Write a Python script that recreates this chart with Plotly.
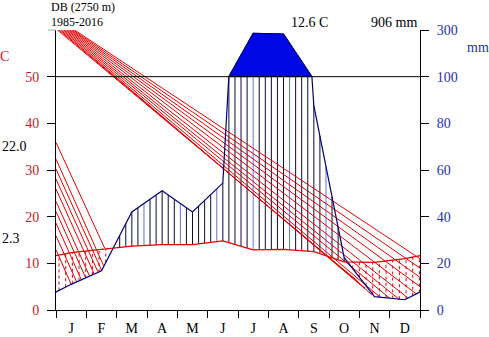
import numpy as np
import plotly.graph_objects as go

# ---------------- data ----------------
months = ["J", "F", "M", "A", "M", "J", "J", "A", "S", "O", "N", "D"]
temp_c = [12.3, 13.0, 13.7, 14.0, 14.0, 14.8, 12.9, 13.0, 12.5, 10.3, 10.2, 11.0]
precip_mm = [11.0, 16.8, 42.0, 51.1, 42.0, 54.4, 286.0, 283.0, 87.6, 22.4, 5.7, 4.4]

station = "DB (2750 m)"
period = "1985-2016"
mean_temp_label = "12.6 C"
total_precip_label = "906 mm"
abs_max_label = "22.0"
abs_min_label = "2.3"

temp_ticks = [0, 10, 20, 30, 40, 50]
precip_tick_pos = [0, 10, 20, 30, 40, 50, 60]
precip_tick_text = ["0", "20", "40", "60", "80", "100", "300"]

# stray hatch segments of the drought fill (month units, deg C)
diagA_top_x = [0.050, 0.101, 0.152, 0.203, 0.254, 0.305, 0.356, 0.407, 0.458, 0.509, 0.560, 0.612]
diagA_top_y = [60.0] * 12
diagA_end_x = [9.967, 10.19, 10.41, 10.69, 11.00, 11.31, 11.60, 11.87, 12.0, 12.0, 12.0, 12.0]
diagA_end_y = [6.06, 4.67, 3.30, 2.72, 2.53, 2.31, 2.59, 3.49, 5.01, 7.00, 8.99, 10.98]

diagB_start_x = [0.0] * 10
diagB_start_y = [35.89, 32.33, 30.19, 28.05, 25.91, 23.25, 21.11, 18.63, 15.91, 12.91]
diagB_end_x = [1.603, 1.570, 1.504, 1.379, 1.256, 1.101, 0.975, 0.833, 0.678, 0.502]
diagB_end_y = [13.28, 9.49, 8.52, 8.20, 7.77, 7.34, 6.94, 6.49, 6.06, 5.50]

# ---------------- styles ----------------
FONT = "Liberation Serif"
RED = "#e00000"
LABEL_RED = "#c8202a"
LABEL_BLUE = "#2433a8"
PLINE = "#00007a"
FILL_BLUE = "#0008e6"

# ---------------- derived curves ----------------
xe = np.arange(-0.5, 12.51, 1.0)
pe = [precip_mm[-1]] + precip_mm + [precip_mm[0]]
te = [temp_c[-1]] + temp_c + [temp_c[0]]


def scale(p):
    return p / 2.0 if p <= 100 else 50.0 + (p - 100.0) / 20.0


cx, cy = [], []
for i in range(len(xe)):
    cx.append(xe[i]); cy.append(scale(pe[i]))
    if i < len(xe) - 1:
        a, b = pe[i], pe[i + 1]
        if (a > 100) != (b > 100):
            f = (100.0 - a) / (b - a)
            cx.append(xe[i] + f); cy.append(50.0)
cx = np.array(cx); cy = np.array(cy)

# blue polygon above 100 mm
above = cy >= 50.0
px_poly = list(cx[above]); py_poly = list(cy[above])
px_poly.append(px_poly[0]); py_poly.append(py_poly[0])

# wet hatch (vertical lines)
wet_x = np.arange(0.1, 12.0, 0.2)
wet_segs_dark_x, wet_segs_dark_y = [], []
wet_segs_light_x, wet_segs_light_y = [], []
for k, x in enumerate(wet_x):
    t = np.interp(x, xe, te)
    p = np.interp(x, cx, cy)
    if p > t:
        top = min(p, 50.0)
        if k % 6 == 2:
            wet_segs_light_x += [x, x, None]; wet_segs_light_y += [t, top, None]
        else:
            wet_segs_dark_x += [x, x, None]; wet_segs_dark_y += [t, top, None]

# dry hatch (dotted vertical lines)
dry_x = np.arange(0.1, 12.0, 0.22)
dry_sx, dry_sy = [], []
for x in dry_x:
    t = np.interp(x, xe, te)
    p = np.interp(x, cx, cy)
    if p < t:
        dry_sx += [x, x, None]; dry_sy += [p, t, None]

diag_x, diag_y = [], []
for a, b, c, d in zip(diagA_top_x, diagA_top_y, diagA_end_x, diagA_end_y):
    diag_x += [a, c, None]; diag_y += [b, d, None]
for a, b, c, d in zip(diagB_start_x, diagB_start_y, diagB_end_x, diagB_end_y):
    diag_x += [a, c, None]; diag_y += [b, d, None]

fig = go.Figure()
fig.add_trace(go.Scatter(x=wet_segs_dark_x, y=wet_segs_dark_y, mode="lines",
                         line=dict(color="#0b0b30", width=1), hoverinfo="skip"))
fig.add_trace(go.Scatter(x=wet_segs_light_x, y=wet_segs_light_y, mode="lines",
                         line=dict(color="#6072e0", width=1), hoverinfo="skip"))
fig.add_trace(go.Scatter(x=dry_sx, y=dry_sy, mode="lines",
                         line=dict(color=RED, width=1, dash="dot"), hoverinfo="skip"))
fig.add_trace(go.Scatter(x=diag_x, y=diag_y, mode="lines",
                         line=dict(color="#e00000", width=1), hoverinfo="skip"))
fig.add_trace(go.Scatter(x=px_poly, y=py_poly, mode="lines", fill="toself",
                         fillcolor=FILL_BLUE, line=dict(color=FILL_BLUE, width=1),
                         hoverinfo="skip"))
fig.add_trace(go.Scatter(x=list(cx), y=list(cy), mode="lines",
                         line=dict(color=PLINE, width=1.2), hoverinfo="skip"))
fig.add_trace(go.Scatter(x=list(xe), y=te, mode="lines",
                         line=dict(color=RED, width=1.2), hoverinfo="skip"))
fig.add_trace(go.Scatter(x=[0], y=[0], yaxis="y2", mode="markers",
                         marker=dict(opacity=0), hoverinfo="skip"))

# 50 C / 100 mm reference line
fig.add_shape(type="line", xref="x", yref="y", x0=0, x1=12, y0=50, y1=50,
              line=dict(color="black", width=1))
# grey tick at 60 on left
fig.add_shape(type="line", xref="paper", yref="paper", x0=-8 / 364, x1=0, y0=1, y1=1,
              line=dict(color="#aaaaaa", width=1))

ann = []
def txt(s, x, y, color="black", xa="left", size=14, pad=1):
    ann.append(dict(text=s, x=x, y=y, xref="paper", yref="paper", showarrow=False,
                    xanchor=xa, yanchor="middle", borderpad=pad,
                    font=dict(family=FONT, size=size, color=color)))

txt(station, -6 / 364, 303 / 280, size=12, pad=0)
txt(period, -6 / 364, 288.5 / 280, size=12, pad=0)
txt(mean_temp_label, 253 / 364, 288 / 280, xa="center")
txt(total_precip_label, 363 / 364, 288 / 280, xa="right")
txt("C", -52 / 364, 254 / 280, color=LABEL_RED, xa="center")
txt("mm", 422 / 364, 263 / 280, color=LABEL_BLUE, xa="center")
txt(abs_max_label, -56 / 364, 164 / 280)
txt(abs_min_label, -56 / 364, 72 / 280)

fig.update_layout(
    width=489, height=337,
    margin=dict(l=56, r=69, t=30, b=27, autoexpand=False),
    paper_bgcolor="white", plot_bgcolor="white",
    showlegend=False,
    annotations=ann,
    font=dict(family=FONT, size=14),
    xaxis=dict(range=[0, 12], tickmode="array", automargin=False,
               tickvals=[i + 0.5 for i in range(12)], ticktext=months,
               ticks="", showline=True, linecolor="black", linewidth=1,
               showgrid=False, zeroline=False,
               tickfont=dict(family=FONT, size=14, color="black"),
               ticklabelstandoff=5,
               minor=dict(tickmode="array", tickvals=list(range(13)), ticks="outside",
                          ticklen=7, tickcolor="black", tickwidth=1, showgrid=False)),
    yaxis=dict(range=[0, 60], tickmode="array", tickvals=temp_ticks, automargin=False,
               ticks="outside", ticklen=8, tickcolor="black", tickwidth=1,
               showline=True, linecolor="black", linewidth=1,
               showgrid=False, zeroline=False,
               tickfont=dict(family=FONT, size=14, color=LABEL_RED),
               ticklabelstandoff=5),
    yaxis2=dict(range=[0, 60], overlaying="y", side="right", tickmode="array",
                tickvals=precip_tick_pos, ticktext=precip_tick_text, automargin=False,
                ticks="outside", ticklen=8, tickcolor="black", tickwidth=1,
                showline=True, linecolor="black", linewidth=1,
                showgrid=False, zeroline=False,
                tickfont=dict(family=FONT, size=14, color=LABEL_BLUE),
                ticklabelstandoff=5),
)

fig.write_html("out.html")
